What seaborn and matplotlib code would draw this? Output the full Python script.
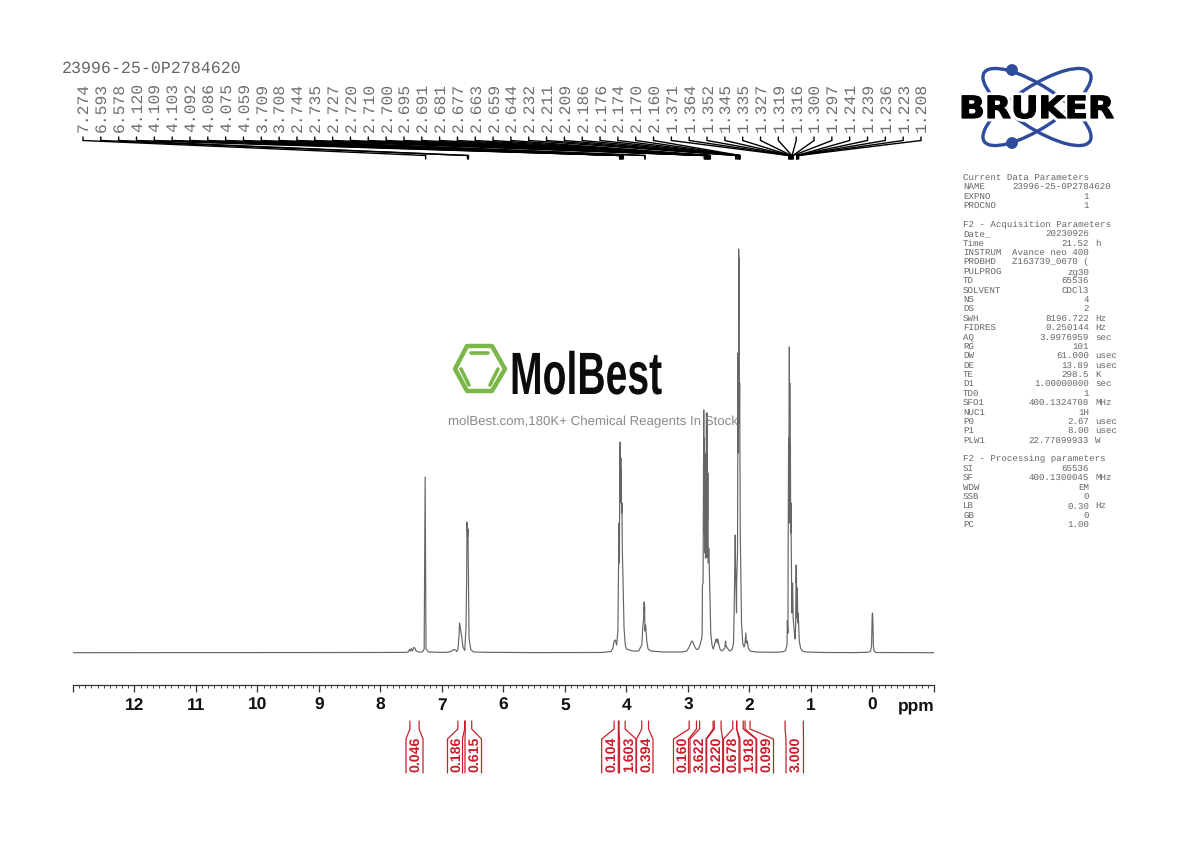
import matplotlib
matplotlib.use("Agg")
import matplotlib.pyplot as plt
import matplotlib.patheffects as pe
from matplotlib.patches import Ellipse, Circle, Polygon
from matplotlib.ticker import MultipleLocator
from matplotlib.transforms import Affine2D
import seaborn as sns
import pandas as pd

ppm_trace = [13.0,9.0,8.2,7.6,7.55,7.53,7.51,7.5,7.48,7.46,7.44,7.42,7.38,7.32,7.29,7.274,7.26,7.22,7.0,6.9,6.84,6.81,6.78,6.76,6.74,6.72,6.715,6.7,6.68,6.66,6.63,6.61,6.6,6.593,6.585,6.578,6.56,6.53,6.48,6.3,5.5,4.4,4.25,4.22,4.2,4.18,
 4.16,4.14,4.13,4.12,4.115,4.109,4.106,4.103,4.098,4.092,4.089,4.086,4.08,4.075,4.067,4.059,4.04,4.02,4.0,3.9,3.8,3.77,3.75,3.735,3.72,3.712,3.709,3.706,3.7,3.69,3.67,3.65,3.6,3.4,3.1,3.02,2.99,2.96,2.94,2.92,2.89,2.86,2.83,2.8,2.78,2.77,2.765,2.755,
 2.744,2.74,2.735,2.73,2.727,2.724,2.72,2.715,2.71,2.705,2.7,2.698,2.695,2.693,2.691,2.685,2.681,2.677,2.67,2.663,2.659,2.65,2.644,2.63,2.61,2.59,2.57,2.55,2.54,2.525,2.515,2.5,2.48,2.455,2.43,2.4,2.39,2.38,2.36,2.34,2.31,2.28,2.26,2.25,2.232,2.225,2.211,2.209,2.195,2.186,2.18,2.176,2.174,2.17,2.165,2.16,2.15,2.13,2.11,2.09,2.075,2.06,2.05,2.035,2.02,1.99,1.9,1.6,1.5,1.44,1.41,1.39,1.385,1.375,1.371,1.364,1.36,1.352,1.348,1.345,1.34,1.335,1.33,1.327,1.319,1.316,1.31,1.3,1.297,1.29,1.27,1.26,1.25,1.241,1.239,1.236,1.23,1.223,1.215,1.208,1.19,1.17,1.14,1.08,0.8,0.3,0.06,0.03,0.015,0.005,0.0,-0.005,-0.015,-0.03,-0.06,-1.0]
intensity = [0.3,0.4,0.5,0.6,1,3.5,2,4.5,2,5.5,5,2,1,1,4,176,4,1,0.6,0.8,2,3.5,3,1.5,4,20,30,24,17,6,2.5,25,70,131,116,124,14,3,1,0.7,0.4,0.5,1.5,5,12,13,
 8,22,83,130,90,205,150,211,170,195,160,185,140,150,100,80,25,8,4,2,2,6,8,26,36,51,40,47,22,28,12,4,2,1,1,2,5,9,12,11,6,3.5,4,9,14,18,68,70,
 243,120,215,110,200,100,195,95,190,125,240,100,235,95,240,130,135,180,90,105,100,75,60,20,8,4,8,13,14,10,14,9,4,2,3,5,12,7,5,3,2,4,10,40,118,80,40,70,100,300,200,404,330,395,230,270,120,30,10,6,8,20,10,12,5,2,1,0.7,1,1.5,3,8,32,20,110,215,130,306,180,270,130,210,120,150,90,70,40,70,60,35,20,14,25,88,70,75,35,65,30,40,12,5,2,1,0.5,0.4,0.8,2,8,38,40,35,6,1.5,0.5,0.3]

peak_labels = ["7.274","6.593","6.578","4.120","4.109","4.103","4.092","4.086","4.075","4.059","3.709","3.708","2.744","2.735","2.727","2.720","2.710","2.700","2.695","2.691","2.681","2.677","2.663","2.659","2.644","2.232","2.211","2.209","2.186","2.176","2.174","2.170","2.160","1.371","1.364","1.352","1.345","1.335","1.327","1.319","1.316","1.300","1.297","1.241","1.239","1.236","1.223","1.208"]
integral_labels = ["0.046","0.186","0.615","0.104","1.603","0.394","0.160","3.622","0.220","0.678","1.918","0.099","3.000"]
integral_ranges = [(7.53,7.38),(6.75,6.64),(6.63,6.525),(4.21,4.14),(4.13,4.03),(3.76,3.65),(2.99,2.87),(2.82,2.60),(2.58,2.47),(2.28,2.216),(2.216,2.11),(2.08,2.0),(1.43,1.133)]
tick_values = [12,11,10,9,8,7,6,5,4,3,2,1,0]

param_rows = [
 ("Current Data Parameters","",""),("NAME","23996-25-0P2784620",""),("EXPNO","1",""),("PROCNO","1",""),None,
 ("F2 - Acquisition Parameters","",""),("Date_","20230926",""),("Time","21.52","h"),("INSTRUM","Avance neo 400",""),("PROBHD","Z163739_0670 (",""),("PULPROG","zg30",""),("TD","65536",""),("SOLVENT","CDCl3",""),("NS","4",""),("DS","2",""),("SWH","8196.722","Hz"),("FIDRES","0.250144","Hz"),("AQ","3.9976959","sec"),("RG","101",""),("DW","61.000","usec"),("DE","13.89","usec"),("TE","298.5","K"),("D1","1.00000000","sec"),("TD0","1",""),("SFO1","400.1324708","MHz"),("NUC1","1H",""),("P0","2.67","usec"),("P1","8.00","usec"),("PLW1","22.77899933","W"),None,
 ("F2 - Processing parameters","",""),("SI","65536",""),("SF","400.1300045","MHz"),("WDW","EM",""),("SSB","0",""),("LB","0.30","Hz"),("GB","0",""),("PC","1.00",""),
]

sns.set_theme(style="white")
plt.rcParams["font.family"] = ["Liberation Sans", "DejaVu Sans"]
plt.rcParams["text.hinting"] = "no_hinting"
plt.rcParams["text.hinting_factor"] = 8
W, H = 1190, 842
fig = plt.figure(figsize=(W/100, H/100), dpi=100, facecolor="white")

class StretchX(pe.AbstractPathEffect):
    """Draws a Text's glyph outlines scaled horizontally about a pixel column."""
    def __init__(self, x0, sx, stroke=None):
        super().__init__()
        self.x0, self.sx, self.stroke = x0, sx, stroke
    def draw_path(self, renderer, gc, tpath, affine, rgbFace=None):
        t = affine + Affine2D().translate(-self.x0, 0).scale(self.sx, 1).translate(self.x0, 0)
        if self.stroke:
            gc0 = renderer.new_gc()
            gc0.copy_properties(gc)
            gc0.set_linewidth(self.stroke[0])
            gc0.set_foreground(self.stroke[1])
            renderer.draw_path(gc0, tpath, t, rgbFace)
            gc0.restore()
        else:
            renderer.draw_path(gc, tpath, t, rgbFace)

ax = fig.add_axes([73/W, 1-685/H, 861/W, 445/H])
df = pd.DataFrame({"ppm": ppm_trace, "intensity": intensity})
sns.lineplot(data=df, x="ppm", y="intensity", sort=False, estimator=None, color="#666666", lw=0.85, ax=ax)
ax.set_xlim(13, -1)
ax.set_ylim(-32, 413)
ax.set_xlabel(""); ax.set_ylabel("")
ax.set_yticks([])
for s in ["top", "left", "right"]:
    ax.spines[s].set_visible(False)
ax.spines["bottom"].set_color("#333333")
ax.spines["bottom"].set_linewidth(0.9)
ax.set_xticks([13] + tick_values + [-1])
ax.set_xticklabels([""] + [str(t) for t in tick_values] + [""], fontweight="bold", fontsize=12.5, color="#111111")
ax.xaxis.set_minor_locator(MultipleLocator(0.1))
ax.tick_params(axis="x", which="major", bottom=True, length=5.2, width=0.9, pad=4, color="#333333")
ax.tick_params(axis="x", which="minor", bottom=True, length=2.0, width=0.7, color="#444444")
ax.patch.set_alpha(0)

ov = fig.add_axes([0, 0, 1, 1], zorder=5)
ov.set_xlim(0, W); ov.set_ylim(H, 0); ov.axis("off")
def ppm_px(p):
    return 873 - 61.5*p

ov.text(898, 706, "ppm", fontsize=12.5, fontweight="bold", color="#111111", ha="left", va="center")

MONO = "Liberation Mono"
ov.text(62, 68, "23996-25-0P2784620", family=MONO, fontsize=12, color="#666666", va="center")

n = len(peak_labels)
for i, lab in enumerate(peak_labels):
    x0 = 83 + (921-83)*i/(n-1)
    ov.text(x0+1, 132, lab, family=MONO, fontsize=11.8, color="#6e6e6e", rotation=90, ha="center", va="bottom")
    xt = ppm_px(float(lab))
    ov.plot([x0, x0, xt, xt], [137, 140.5, 155.5, 159], color="black", lw=1.0, solid_joinstyle="miter")

lower = [(406,423),(447.5,462.5),(465,481.5),(601.7,618.3),(619.5,636),(636.5,653),(673.5,688.5),(690,706),(706.7,722.7),(723.5,739),(740,756),(756.7,773.5),(786,803.5)]
red = "#c8202c"
for lab, (a, b), (lx, rx) in zip(integral_labels, integral_ranges, lower):
    xa, xb = ppm_px(a), ppm_px(b)
    ov.plot([xa, xa, lx, lx], [721, 729, 739, 773], color=red, lw=0.9)
    ov.plot([xb, xb, rx, rx], [721, 729, 739, 773], color=red, lw=0.9)
    ov.text((lx+rx)/2+1.5, 772.5, lab, color=red, fontsize=10.2, fontweight="bold", rotation=90, ha="center", va="bottom")

green = "#7ab648"
ov.add_patch(Polygon([(455,369),(467,346),(492,346),(505,369),(492,391),(467,391)], closed=True, fill=False, ec=green, lw=3.2, joinstyle="round"))
for seg in [((471,353),(488,353)),((461,369),(469,385)),((498,369),(490,385))]:
    ov.plot([seg[0][0], seg[1][0]], [seg[0][1], seg[1][1]], color=green, lw=2.6, solid_capstyle="round")
ov.text(510, 394, "MolBest", fontweight="bold", fontsize=43, color="#0c0c0c", va="baseline", ha="left",
        path_effects=[StretchX(510, 0.655)])
ov.text(448, 421.5, "molBest.com,180K+ Chemical Reagents In Stock", fontsize=9.55, color="#8a8a8a", va="center", ha="left")

blue = "#2f4b9c"
for ang in (33, -33):
    ov.add_patch(Ellipse((1037, 107), 126, 42, angle=ang, fill=False, ec=blue, lw=2.4))
for y in (70, 143):
    ov.add_patch(Circle((1012, y), 5.2, color=blue))
ov.text(959, 118, "BRUKER", family="DejaVu Sans", fontweight="bold", fontsize=22, color="white", ha="left", va="baseline",
        path_effects=[StretchX(959, 1.11, stroke=(5, "white"))])
ov.text(959, 118, "BRUKER", family="DejaVu Sans", fontweight="bold", fontsize=22, color="black", ha="left", va="baseline",
        path_effects=[StretchX(959, 1.11, stroke=(0.9, "black"))])

tc = "#666666"
y = 177.5
for row in param_rows:
    if row is not None:
        k, v, u = row
        ov.text(963, y, k, family=MONO, fontsize=6.6, color=tc, va="center")
        if v:
            if k == "NAME":
                ov.text(1012, y, v, family=MONO, fontsize=6.6, color=tc, va="center")
            else:
                ov.text(1089, y, v, family=MONO, fontsize=6.6, color=tc, va="center", ha="right")
        if u:
            ov.text(1095, y, u, family=MONO, fontsize=6.6, color=tc, va="center")
    y += 9.39

fig.savefig("out.png", dpi=100, facecolor="white")
